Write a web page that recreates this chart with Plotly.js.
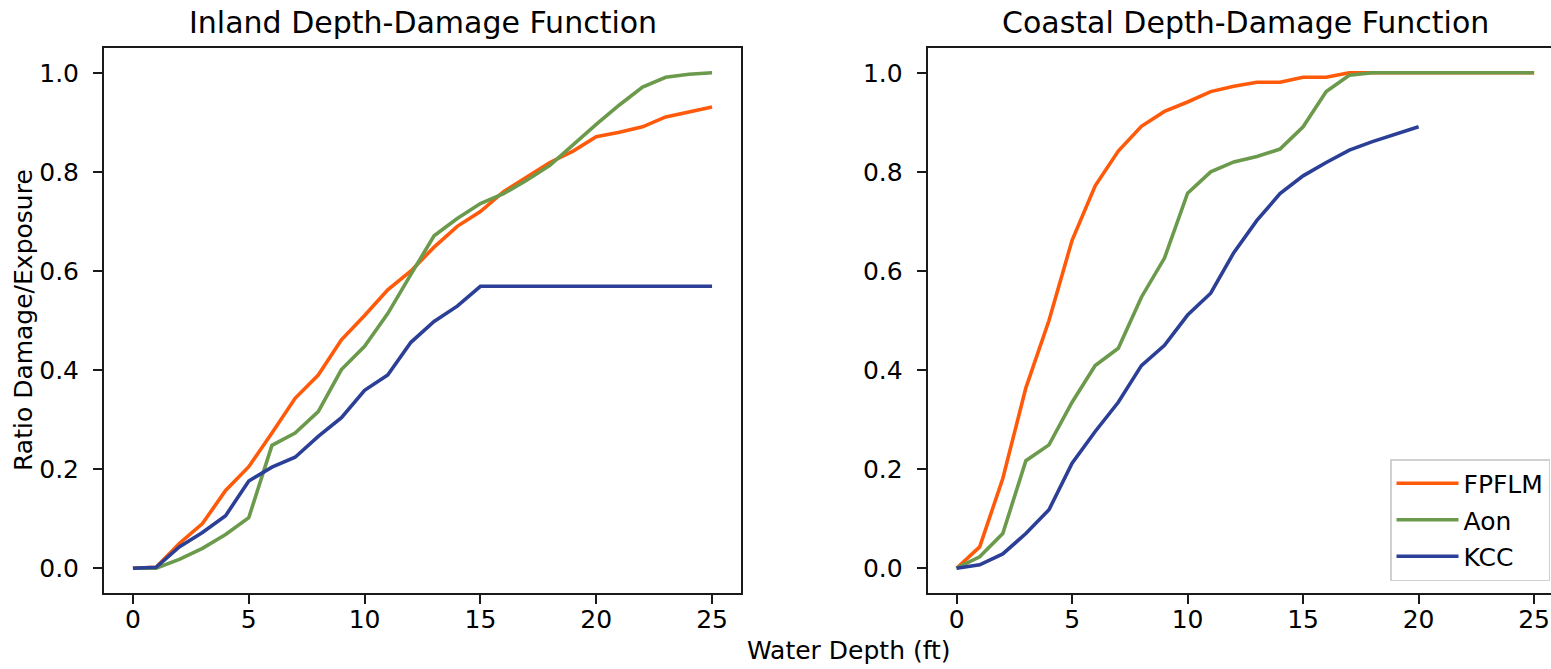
<!DOCTYPE html>
<html>
<head>
<meta charset="utf-8">
<script src="https://cdn.plot.ly/plotly-3.0.1.min.js"></script>
<style>
html,body{margin:0;padding:0;overflow:hidden;background:#fff;}
#chart{width:1580px;height:669px;}
</style>
</head>
<body>
<div id="chart"></div>
<script>
// ---- data ----
const depth = [0,1,2,3,4,5,6,7,8,9,10,11,12,13,14,15,16,17,18,19,20,21,22,23,24,25];
const depthKCCCoastal = [0,1,2,3,4,5,6,7,8,9,10,11,12,13,14,15,16,17,18,19,20];
const seriesNames = ["FPFLM", "Aon", "KCC"];

const inlandFPFLM = [0,0.002,0.05,0.09,0.157,0.205,0.273,0.343,0.39,0.461,0.51,0.562,0.6,0.648,0.69,0.72,0.76,0.789,0.819,0.842,0.871,0.88,0.891,0.911,0.921,0.931];
const inlandAon   = [0,0,0.018,0.04,0.068,0.102,0.248,0.273,0.316,0.401,0.448,0.514,0.593,0.671,0.706,0.736,0.756,0.783,0.813,0.855,0.896,0.935,0.971,0.991,0.997,1.0];
const inlandKCC   = [0,0.002,0.043,0.072,0.106,0.176,0.204,0.224,0.266,0.304,0.359,0.39,0.456,0.498,0.529,0.569,0.569,0.569,0.569,0.569,0.569,0.569,0.569,0.569,0.569,0.569];

const coastalFPFLM = [0,0.043,0.181,0.364,0.5,0.662,0.772,0.842,0.892,0.922,0.941,0.962,0.973,0.981,0.981,0.991,0.991,1,1,1,1,1,1,1,1,1];
const coastalAon   = [0,0.023,0.07,0.217,0.249,0.335,0.409,0.444,0.547,0.626,0.757,0.8,0.82,0.831,0.846,0.891,0.962,0.995,1,1,1,1,1,1,1,1];
const coastalKCC   = [0,0.007,0.029,0.07,0.118,0.212,0.276,0.335,0.409,0.45,0.511,0.555,0.637,0.702,0.756,0.792,0.819,0.844,0.861,0.876,0.891];

const xTicks = [0,5,10,15,20,25];
const yTicks = [0,0.2,0.4,0.6,0.8,1.0];
const titles = ["Inland Depth-Damage Function", "Coastal Depth-Damage Function"];
const xLabel = "Water Depth (ft)";
const yLabel = "Ratio Damage/Exposure";

// ---- styles ----
const colors = ["#ff5a0a", "#6b9a4c", "#2b3f96"];
const FONT = "DejaVu Sans, Liberation Sans, sans-serif";
const lw = 3.6;
const FS = 25, TFS = 30;

const inland = [inlandFPFLM, inlandAon, inlandKCC];
const coastal = [coastalFPFLM, coastalAon, coastalKCC];
const coastalX = [depth, depth, depthKCCCoastal];

const traces = [];
for (let i = 0; i < 3; i++) {
  traces.push({x: depth, y: inland[i], type: "scatter", mode: "lines", name: seriesNames[i],
    legendgroup: seriesNames[i], showlegend: false, xaxis: "x", yaxis: "y",
    line: {color: colors[i], width: lw}});
}
for (let i = 0; i < 3; i++) {
  traces.push({x: coastalX[i], y: coastal[i], type: "scatter", mode: "lines", name: seriesNames[i],
    legendgroup: seriesNames[i], showlegend: true, xaxis: "x2", yaxis: "y2",
    line: {color: colors[i], width: lw}});
}

const axisCommon = {
  showline: true, mirror: true, linecolor: "#1a1a1a", linewidth: 2,
  ticks: "outside", ticklen: 9, tickwidth: 2, tickcolor: "#1a1a1a",
  showgrid: false, zeroline: false,
  tickfont: {family: FONT, size: FS, color: "#000"}
};
const xAxis = (dom, anchor) => Object.assign({}, axisCommon, {
  domain: dom, anchor: anchor, range: [-1.25, 26.25], tickmode: "array", tickvals: xTicks,
  ticklabelstandoff: -6
});
const yAxis = (anchor) => Object.assign({}, axisCommon, {
  domain: [0, 1], anchor: anchor, range: [-0.05, 1.05], tickmode: "array", tickvals: yTicks,
  tickformat: ".1f", ticklabelstandoff: 9
});

const W = 1580, L = 104, R = 17;
const plotW = W - L - R;
const px = p => (p - L) / plotW;
const T = 48, B = 76, H = 669;
const plotH = H - T - B;
const py = p => (H - B - p) / plotH;

const layout = {
  width: W, height: H,
  margin: {l: L, r: R, t: T, b: B},
  paper_bgcolor: "#fff", plot_bgcolor: "#fff",
  font: {family: FONT, color: "#000"},
  xaxis: xAxis([0, px(741)], "y"),
  yaxis: yAxis("x"),
  xaxis2: xAxis([px(927.7), 1], "y2"),
  yaxis2: yAxis("x2"),
  showlegend: true,
  legend: {
    x: px(1550), xanchor: "right", y: py(581), yanchor: "bottom",
    bgcolor: "#fff", bordercolor: "#d0d0d0", borderwidth: 1.5,
    font: {family: FONT, size: FS, color: "#000"},
    traceorder: "grouped", tracegroupgap: 1, itemwidth: 62
  },
  annotations: [
    {text: titles[0], xref: "paper", yref: "paper", x: px((104.5 + 741) / 2), y: py(22.5),
     xanchor: "center", yanchor: "middle", showarrow: false, font: {family: FONT, size: TFS, color: "#000"}},
    {text: titles[1], xref: "paper", yref: "paper", x: px((927.7 + 1563) / 2), y: py(22.5),
     xanchor: "center", yanchor: "middle", showarrow: false, font: {family: FONT, size: TFS, color: "#000"}},
    {text: xLabel, xref: "paper", yref: "paper", x: px(849), y: py(651),
     xanchor: "center", yanchor: "middle", showarrow: false, font: {family: FONT, size: FS, color: "#000"}},
    {text: yLabel, xref: "paper", yref: "paper", x: px(23), y: py(320), textangle: -90,
     xanchor: "center", yanchor: "middle", showarrow: false, font: {family: FONT, size: FS, color: "#000"}}
  ]
};

Plotly.newPlot("chart", traces, layout, {staticPlot: true, displayModeBar: false});
</script>
</body>
</html>
